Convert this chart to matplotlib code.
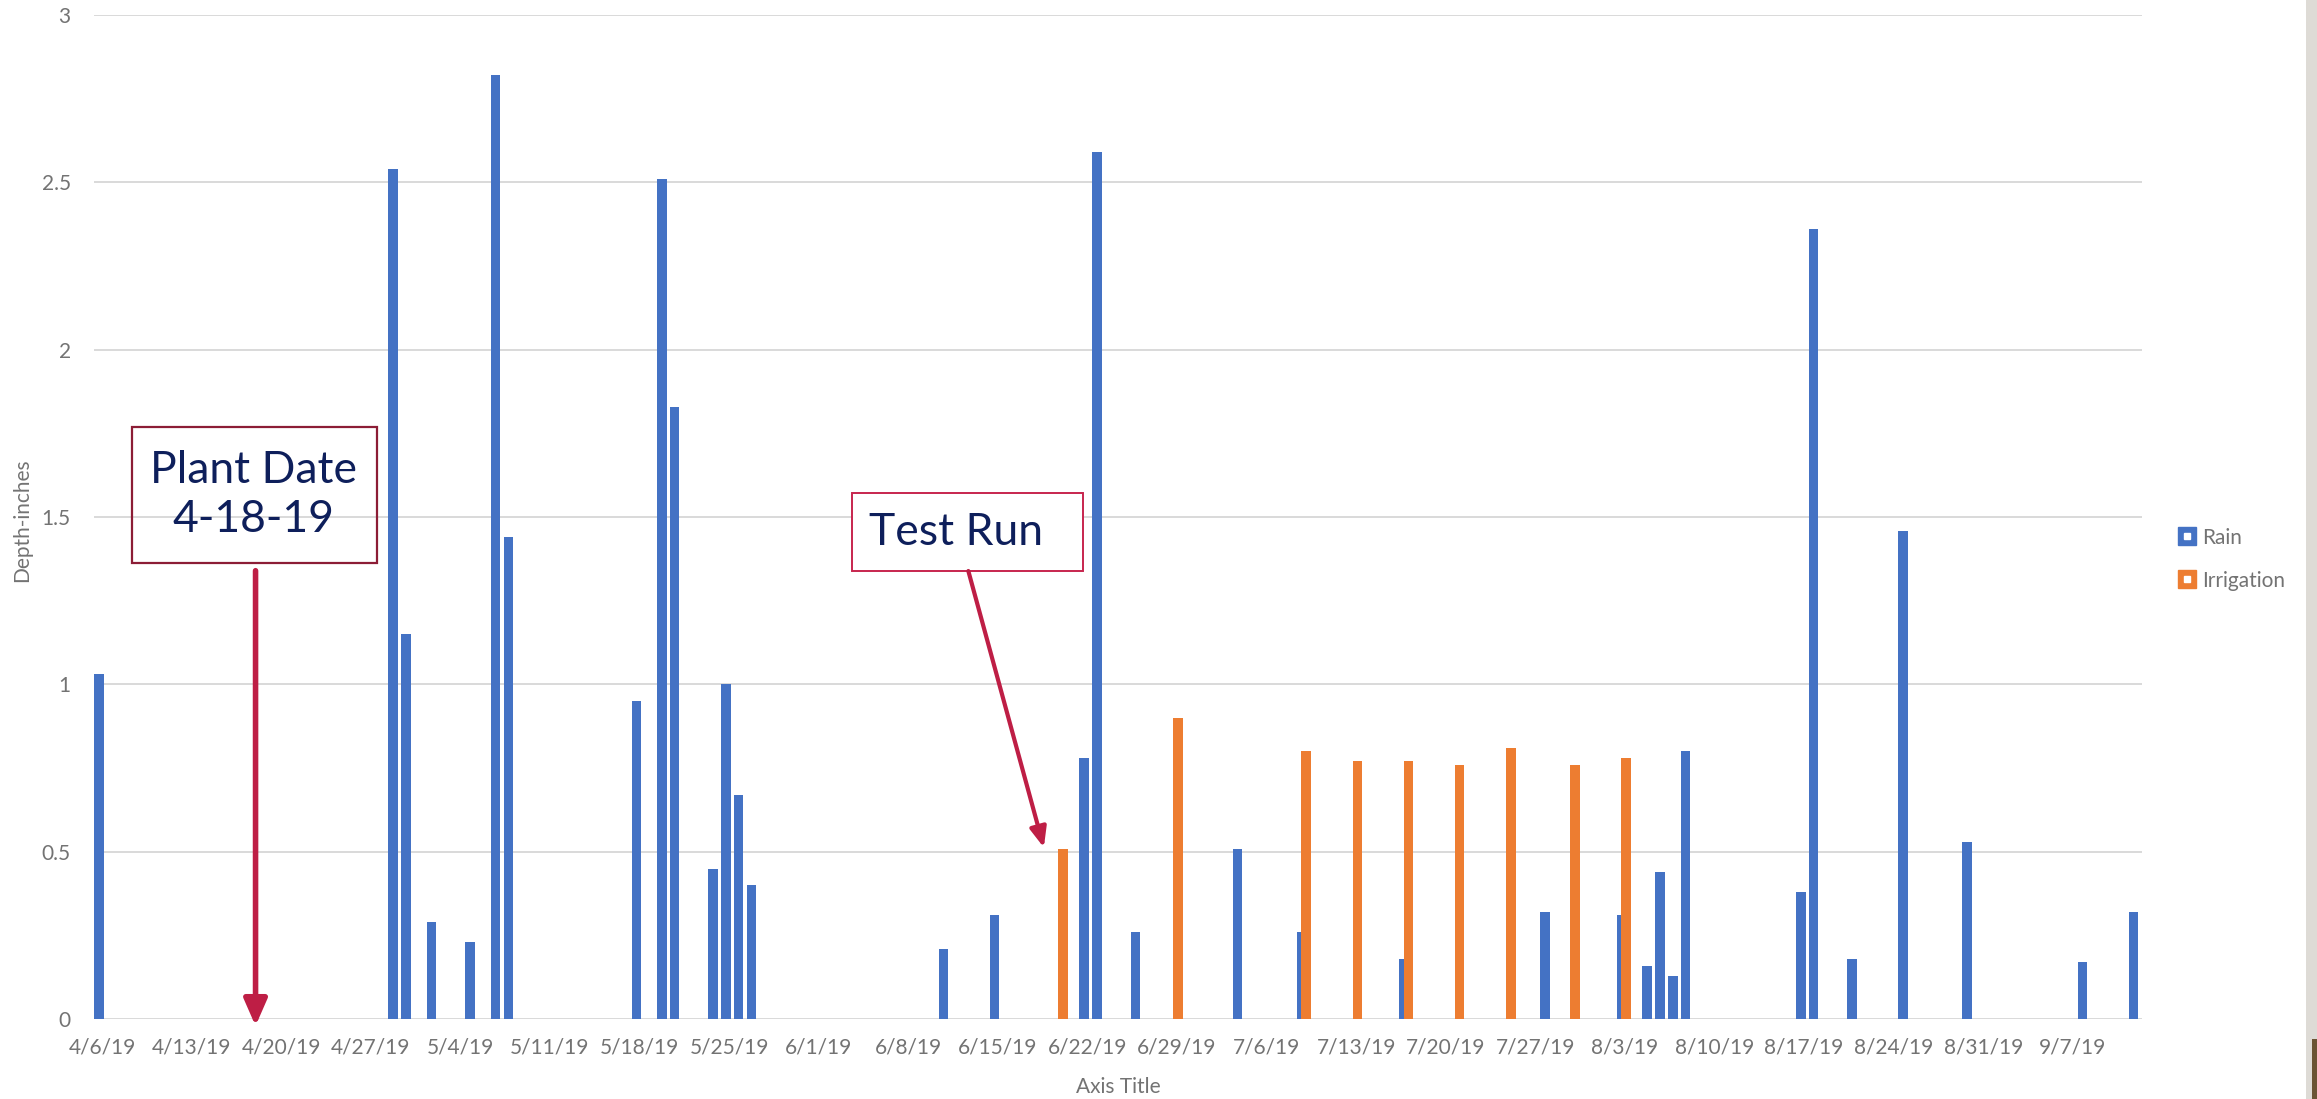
import matplotlib
matplotlib.use('Agg')
import matplotlib.pyplot as plt
import matplotlib.dates as mdates
from matplotlib.patches import Rectangle
from matplotlib.lines import Line2D
from matplotlib.legend_handler import HandlerTuple
import pandas as pd

# ==================== 数据 ====================
rain_dates = ['2019-04-06', '2019-04-29', '2019-04-30', '2019-05-02', '2019-05-05',
              '2019-05-07', '2019-05-08', '2019-05-18', '2019-05-20', '2019-05-21',
              '2019-05-24', '2019-05-25', '2019-05-26', '2019-05-27', '2019-06-11',
              '2019-06-15', '2019-06-22', '2019-06-23', '2019-06-26', '2019-07-04',
              '2019-07-09', '2019-07-17', '2019-07-28', '2019-08-03', '2019-08-05',
              '2019-08-06', '2019-08-07', '2019-08-08', '2019-08-17', '2019-08-18',
              '2019-08-21', '2019-08-25', '2019-08-30', '2019-09-08', '2019-09-12']
rain_inches = [1.03, 2.54, 1.15, 0.29, 0.23,
               2.82, 1.44, 0.95, 2.51, 1.83,
               0.45, 1.00, 0.67, 0.40, 0.21,
               0.31, 0.78, 2.59, 0.26, 0.51,
               0.26, 0.18, 0.32, 0.31, 0.16,
               0.44, 0.13, 0.80, 0.38, 2.36,
               0.18, 1.46, 0.53, 0.17, 0.32]

irrigation_dates = ['2019-06-20', '2019-06-29', '2019-07-09', '2019-07-13', '2019-07-17',
                    '2019-07-21', '2019-07-25', '2019-07-30', '2019-08-03']
irrigation_inches = [0.51, 0.90, 0.80, 0.77, 0.77, 0.76, 0.81, 0.76, 0.78]

week_ticks = pd.date_range('2019-04-06', '2019-09-07', freq='7D')
y_ticks = [0, 0.5, 1, 1.5, 2, 2.5, 3]
y_tick_labels = ['0', '0.5', '1', '1.5', '2', '2.5', '3']

plant_date = '2019-04-18'
test_run_date = '2019-06-20'

# ==================== 样式 ====================
BLUE = '#4472C4'
ORANGE = '#ED7D31'
GRID = '#D9D9D9'
LABEL = '#737373'
NAVY = '#0E1F5B'
CRIMSON = '#BE1E45'

plt.rcParams['font.family'] = ['Lato', 'DejaVu Sans']

fig = plt.figure(figsize=(23.17, 10.99), dpi=100)
ax = fig.add_axes([0.0407, 0.0726, 0.8837, 0.9137])

rain_x = mdates.date2num(pd.to_datetime(rain_dates))
irr_x = mdates.date2num(pd.to_datetime(irrigation_dates))

ax.bar(rain_x - 0.25, rain_inches, width=0.74, color=BLUE, zorder=2)
ax.bar(irr_x + 0.1, irrigation_inches, width=0.74, color=ORANGE, zorder=3)

ax.set_xlim(rain_x[0] - 0.6, rain_x[-1] + 0.4)
ax.set_ylim(0, 3)

ax.set_xticks(mdates.date2num(week_ticks))
ax.set_xticklabels([f'{d.month}/{d.day}/{d:%y}' for d in week_ticks])
ax.set_yticks(y_ticks)
ax.set_yticklabels(y_tick_labels)
ax.tick_params(axis='both', length=0, labelsize=15, labelcolor=LABEL)
ax.tick_params(axis='x', pad=13)
ax.tick_params(axis='y', pad=17)

ax.grid(axis='y', color=GRID, linewidth=1.4, zorder=0)
ax.set_axisbelow(True)
for s in ax.spines.values():
    s.set_visible(False)

ax.set_xlabel('Axis Title', fontsize=15, color=LABEL, va='center')
ax.xaxis.set_label_coords(0.5, -0.0675)
ax.set_ylabel('Depth-inches', fontsize=15, color=LABEL, va='center', ha='center')
ax.yaxis.set_label_coords(-0.0354, 0.497)

# ==================== 注释 ====================
ax.add_patch(Rectangle((0.0184, 0.4543), 0.1196, 0.1355, transform=ax.transAxes,
                       fill=False, edgecolor='#8C1D36', linewidth=1.6, clip_on=False, zorder=5))
ax.text(0.0778, 0.522, 'Plant Date\n4-18-19', transform=ax.transAxes, ha='center', va='center',
        fontsize=32, color=NAVY, linespacing=1.25, zorder=6)
px = mdates.date2num(pd.Timestamp(plant_date))
ax.annotate('', xy=(px, -0.02), xytext=(px, 1.34),
            arrowprops=dict(arrowstyle='-|>,head_length=0.8,head_width=0.35',
                            color=CRIMSON, lw=4, mutation_scale=20, shrinkA=0, shrinkB=0),
            annotation_clip=False, zorder=6)

ax.add_patch(Rectangle((0.370, 0.4464), 0.1128, 0.0777, transform=ax.transAxes,
                       facecolor='white', edgecolor='#C7254E', linewidth=1.4, clip_on=False, zorder=5))
ax.text(0.4208, 0.4848, 'Test Run', transform=ax.transAxes, ha='center', va='center',
        fontsize=32, color=NAVY, zorder=6)
tx = mdates.date2num(pd.Timestamp(test_run_date))
ax.annotate('', xy=(tx - 1.4, 0.513), xytext=(tx - 7.3, 1.339),
            arrowprops=dict(arrowstyle='-|>,head_length=0.6,head_width=0.25',
                            color=CRIMSON, lw=3, mutation_scale=20, shrinkA=0, shrinkB=0),
            annotation_clip=False, zorder=6)

# ==================== 图例 ====================
handles = [
    (Line2D([], [], marker='s', ms=12.5, color=BLUE, ls=''),
     Line2D([], [], marker='s', ms=4.5, color='white', ls='')),
    (Line2D([], [], marker='s', ms=12.5, color=ORANGE, ls=''),
     Line2D([], [], marker='s', ms=4.5, color='white', ls='')),
]
fig.legend(handles, ['Rain', 'Irrigation'], handler_map={tuple: HandlerTuple(ndivide=1)},
           loc='center left', bbox_to_anchor=(0.9396, 0.4913), frameon=False,
           fontsize=15, labelcolor=LABEL, handlelength=1.0, handletextpad=0.2,
           labelspacing=1.1, borderpad=0, borderaxespad=0)

# 右侧截图边缘
fig.patches.append(Rectangle((2306 / 2317, 0), 11 / 2317, 1, transform=fig.transFigure,
                             facecolor='#DEDBD6', edgecolor='none'))
fig.patches.append(Rectangle((2312 / 2317, 0), 5 / 2317, 60 / 1099, transform=fig.transFigure,
                             facecolor='#6B5434', edgecolor='none'))

fig.savefig('out.png', dpi=100)
